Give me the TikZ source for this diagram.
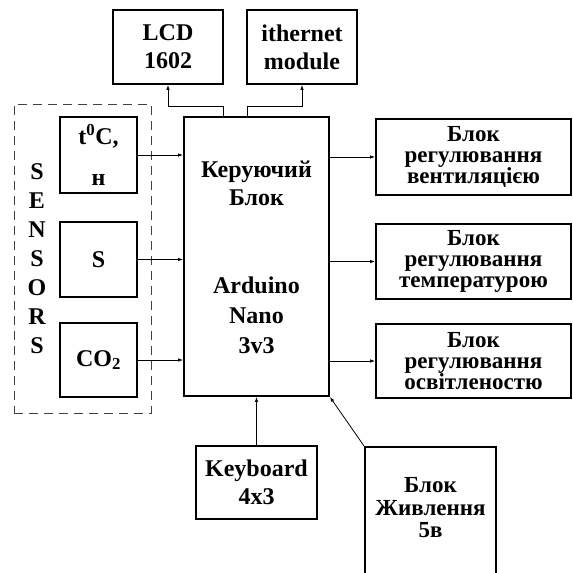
\documentclass[tikz,border=0pt]{standalone}
\usepackage{fontspec}
\setmainfont{Liberation Serif}
\usetikzlibrary{arrows.meta}
\begin{document}
\begin{tikzpicture}[x=1pt,y=-1pt,
  box/.style={draw=black,line width=1.8pt,inner sep=0pt,align=center,
    font=\fontsize{24}{28}\selectfont\bfseries},
  rbox/.style={box,minimum width=195pt,font=\fontsize{23}{21}\selectfont\bfseries},
  txt/.style={inner sep=0pt,align=center,font=\fontsize{24}{28}\selectfont\bfseries},
  arr/.style={draw=black,line width=0.8pt,-{Latex[length=5pt,width=3.5pt]}},
  ln/.style={draw=black,line width=0.8pt}]
\useasboundingbox (0,0) rectangle (573,573);
\clip (0,0) rectangle (573,573);
% top modules
\node[box,minimum width=110pt,minimum height=74pt] (lcd) at (168,47) {LCD\\1602};
\node[box,minimum width=110pt,minimum height=74pt] (eth) at (302,47) {ithernet\\module};
% main block
\node[box,minimum width=145pt,minimum height=279pt] (main) at (256.5,256.5) {};
\node[txt] (mt1) at (256.5,183) {Керуючий\\Блок};
\node[txt,font=\fontsize{24}{30}\selectfont\bfseries] (mt2) at (256.5,315) {Arduino\\Nano\\3v3};
% sensors group
\node[draw=black!75,dashed,dash pattern=on 9pt off 6pt,line width=0.8pt,
  minimum width=137pt,minimum height=309pt,inner sep=0pt] (sens) at (82.5,258.5) {};
\node[txt,font=\fontsize{24}{29}\selectfont\bfseries] (slbl) at (37,259) {S\\E\\N\\S\\O\\R\\S};
\node[box,line width=1.4pt,minimum width=77pt,minimum height=76pt] (s1) at (98.5,155) {t\textsuperscript{0}C,\\[13pt]н};
\node[box,line width=1.4pt,minimum width=77pt,minimum height=75pt] (s2) at (98.5,259.5) {S};
\node[box,line width=1.4pt,minimum width=77pt,minimum height=74pt] (s3) at (98.5,360) {CO\textsubscript{2}};
% output blocks
\node[rbox,minimum height=76pt] (r1) at (473.5,157) {Блок\\регулювання\\вентиляцією};
\node[rbox,minimum height=75pt] (r2) at (473.5,261.5) {Блок\\регулювання\\температурою};
\node[rbox,minimum height=74pt] (r3) at (473.5,361) {Блок\\регулювання\\освітленостю};
% keyboard
\node[box,minimum width=121pt,minimum height=73pt] (kb) at (256.5,482.5) {Keyboard\\4x3};
% power
\node[box,minimum width=131pt,minimum height=160pt] (pw) at (430.5,527) {};
\node[txt,font=\fontsize{23}{22.5}\selectfont\bfseries] (pwt) at (430.5,508) {Блок\\Живлення\\5в};
% connectors
\coordinate (j1) at (223,106);
\coordinate (j2) at (247,106);
\draw[arr] (j1 |- main.north) -- (j1) -| (lcd.south);
\draw[arr] (j2 |- main.north) -- (j2) -| (eth.south);
\draw[arr] (s1.east) -- (s1.east -| main.west);
\draw[arr] (s2.east) -- (s2.east -| main.west);
\draw[arr] (s3.east) -- (s3.east -| main.west);
\draw[arr] (r1.west -| main.east) -- (r1.west);
\draw[arr] (r2.west -| main.east) -- (r2.west);
\draw[arr] (r3.west -| main.east) -- (r3.west);
\draw[arr] (kb.north) -- (kb.north |- main.south);
\draw[arr] (pw.north west) -- (main.south east);
\end{tikzpicture}
\end{document}
